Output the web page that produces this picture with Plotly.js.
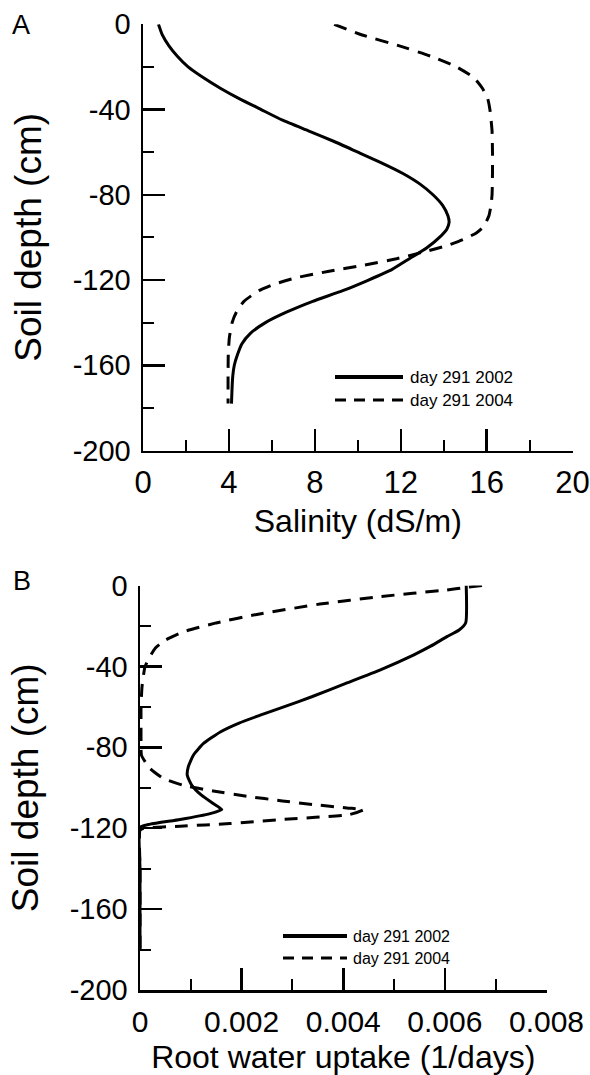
<!DOCTYPE html>
<html>
<head>
<meta charset="utf-8">
<script src="https://cdn.plot.ly/plotly-3.0.1.min.js"></script>
<style>html,body{margin:0;padding:0;background:#fff;}#chart{width:590px;height:1075px;}</style>
</head>
<body>
<div id="chart"></div>
<script>
// ---- Panel A: salinity profiles ----
var depthA2002 = [0,-5,-10,-15,-20,-25,-30,-35,-40,-45,-50,-55,-60,-65,-70,-75,-80,-85,-90,-93,-96,-100,-105,-110,-115,-120,-125,-130,-135,-140,-145,-150,-155,-160,-165,-170,-175,-178];
var salA2002   = [0.72,0.9,1.2,1.6,2.1,2.8,3.6,4.5,5.5,6.5,7.7,8.9,10.0,11.1,12.1,12.9,13.5,13.95,14.2,14.25,14.15,13.8,13.2,12.4,11.6,10.5,9.3,7.9,6.7,5.7,5.0,4.6,4.4,4.25,4.18,4.15,4.13,4.12];
var depthA2004 = [0,-5,-10,-15,-20,-25,-30,-35,-40,-50,-60,-70,-80,-85,-90,-95,-98,-101,-104,-107,-110,-113,-116,-119,-122,-125,-130,-135,-140,-147,-155,-165,-178];
var salA2004   = [8.9,10.2,11.9,13.4,14.6,15.4,15.8,16.05,16.15,16.25,16.27,16.27,16.25,16.2,16.1,15.85,15.5,14.9,14.1,13.0,11.8,10.3,8.6,7.1,6.1,5.4,4.7,4.35,4.15,4.02,3.97,3.96,3.96];

// ---- Panel B: root water uptake profiles ----
var depthB2002 = [0,-18.4,-22,-25.3,-30,-34.4,-41.8,-48.4,-55,-60,-64,-68,-72.4,-78.1,-83.9,-89.7,-93.8,-98.8,-103.7,-107.8,-110.8,-112.8,-115.7,-118,-119.5,-140,-160,-180];
var rwuB2002   = [0.00642,0.00641,0.00628,0.00604,0.00572,0.00538,0.00472,0.00405,0.00338,0.00283,0.00238,0.00195,0.00158,0.00125,0.00105,0.00095,0.00093,0.00102,0.00121,0.00144,0.00161,0.00138,0.00079,0.0002,0,0,0,0];
var depthB2004 = [0,-1,-2.2,-5.5,-9.2,-14.3,-18.5,-22.9,-27,-31,-35,-40,-50,-60,-70,-78,-84,-90.5,-95.4,-98.8,-101.6,-104.2,-106.5,-108.3,-110,-110.8,-113.2,-115.7,-117.7,-119,-120,-121,-140,-160,-180];
var rwuB2004   = [0.00673,0.0064,0.00604,0.00472,0.00354,0.0023,0.0015,0.00085,0.0005,0.0003,0.0002,0.0001,0.00004,0.00002,0.00002,0.00002,0.00003,0.0002,0.00046,0.00085,0.00144,0.0021,0.0028,0.00341,0.00407,0.0044,0.00413,0.0028,0.00177,0.00079,0.00007,0,0,0,0];

// ---- tick labels ----
var depthTickVals = [0,-40,-80,-120,-160,-200];
var depthTickText = ["0","-40","-80","-120","-160","-200"];
var salTickVals = [0,4,8,12,16,20];
var salTickText = ["0","4","8","12","16","20"];
var rwuTickVals = [0,0.002,0.004,0.006,0.008];
var rwuTickText = ["0","0.002","0.004","0.006","0.008"];
var seriesNames = ["day 291 2002","day 291 2004"];

var FONT = "Liberation Sans, Arial, Helvetica, sans-serif";
var LW = 3;
var DASH = "13px,9px";

function solid(){ return {color:"#000", width:LW, shape:"spline", smoothing:0.5}; }
function dashed(){ return {color:"#000", width:LW, dash:DASH, shape:"spline", smoothing:0.5}; }

var traces = [
  {x: salA2002, y: depthA2002, xaxis:"x", yaxis:"y", mode:"lines", name:seriesNames[0], line:solid(), showlegend:false},
  {x: salA2004, y: depthA2004, xaxis:"x", yaxis:"y", mode:"lines", name:seriesNames[1], line:dashed(), showlegend:false},
  {x: rwuB2002, y: depthB2002, xaxis:"x2", yaxis:"y2", mode:"lines", name:seriesNames[0], line:solid(), showlegend:false},
  {x: rwuB2004, y: depthB2004, xaxis:"x2", yaxis:"y2", mode:"lines", name:seriesNames[1], line:dashed(), showlegend:false}
];

function xAxis(domain, anchor, range, vals, text, minorDtick, title, tsize){
  return {
    domain: domain, anchor: anchor, range: range, fixedrange:true,
    showline:true, linecolor:"#000", linewidth:2.5, mirror:false,
    showgrid:false, zeroline:false,
    ticks:"inside", ticklen:22, tickwidth:2.5, tickcolor:"#000",
    tickvals: vals, ticktext: text, ticklabelstandoff: 3,
    tickfont:{family:FONT, size:tsize, color:"#000"},
    minor:{ticks:"inside", ticklen:11, tickwidth:2, tickcolor:"#000", dtick:minorDtick, tick0:0, showgrid:false},
    title:{text:title, font:{family:FONT, size:32, color:"#000"}, standoff:11}
  };
}
function yAxis(domain, anchor){
  return {
    domain: domain, anchor: anchor, range:[-200,0], fixedrange:true,
    showline:true, linecolor:"#000", linewidth:2.5, mirror:false,
    showgrid:false, zeroline:false,
    ticks:"inside", ticklen:22, tickwidth:2.5, tickcolor:"#000",
    tickvals: depthTickVals, ticktext: depthTickText, ticklabelstandoff: 4,
    tickfont:{family:FONT, size:29, color:"#000"},
    minor:{ticks:"inside", ticklen:11, tickwidth:2, tickcolor:"#000", dtick:20, tick0:0, showgrid:false},
    title:{text:"Soil depth (cm)", font:{family:FONT, size:37, color:"#000"}, standoff:20}
  };
}

function px(x){ return x/590; }
function py(y){ return 1 - y/1075; }

var shapes = [
  {type:"line", xref:"paper", yref:"paper", x0:px(335), x1:px(403), y0:py(377), y1:py(377), line:{color:"#000", width:4}},
  {type:"line", xref:"paper", yref:"paper", x0:px(335), x1:px(403), y0:py(400), y1:py(400), line:{color:"#000", width:3, dash:"11px,8px"}},
  {type:"line", xref:"paper", yref:"paper", x0:px(283), x1:px(347), y0:py(936), y1:py(936), line:{color:"#000", width:4}},
  {type:"line", xref:"paper", yref:"paper", x0:px(283), x1:px(347), y0:py(958), y1:py(958), line:{color:"#000", width:3, dash:"11px,8px"}}
];

var annotations = [
  {text:"A", xref:"paper", yref:"paper", x:px(10), y:py(25), xanchor:"left", yanchor:"middle", showarrow:false, font:{family:FONT, size:27, color:"#000"}},
  {text:"B", xref:"paper", yref:"paper", x:px(11), y:py(581), xanchor:"left", yanchor:"middle", showarrow:false, font:{family:FONT, size:27, color:"#000"}},
  {text:seriesNames[0], xref:"paper", yref:"paper", x:px(408), y:py(377), xanchor:"left", yanchor:"middle", showarrow:false, font:{family:FONT, size:17, color:"#000"}},
  {text:seriesNames[1], xref:"paper", yref:"paper", x:px(408), y:py(400), xanchor:"left", yanchor:"middle", showarrow:false, font:{family:FONT, size:17, color:"#000"}},
  {text:seriesNames[0], xref:"paper", yref:"paper", x:px(351), y:py(936), xanchor:"left", yanchor:"middle", showarrow:false, font:{family:FONT, size:16, color:"#000"}},
  {text:seriesNames[1], xref:"paper", yref:"paper", x:px(351), y:py(958), xanchor:"left", yanchor:"middle", showarrow:false, font:{family:FONT, size:16, color:"#000"}}
];

var layout = {
  width:590, height:1075,
  margin:{l:0, r:0, t:0, b:0, pad:0},
  paper_bgcolor:"#fff", plot_bgcolor:"#fff",
  showlegend:false,
  font:{family:FONT, color:"#000"},
  xaxis: xAxis([px(143), px(572.6)], "y", [0,20], salTickVals, salTickText, 2, "Salinity (dS/m)", 31),
  yaxis: yAxis([py(450.5), py(24.3)], "x"),
  xaxis2: xAxis([px(140), px(546.5)], "y2", [0,0.008], rwuTickVals, rwuTickText, 0.001, "Root water uptake (1/days)", 30),
  yaxis2: yAxis([py(990), py(585.5)], "x2"),
  shapes: shapes,
  annotations: annotations
};

Plotly.newPlot("chart", traces, layout, {displayModeBar:false, staticPlot:true});
</script>
</body>
</html>
